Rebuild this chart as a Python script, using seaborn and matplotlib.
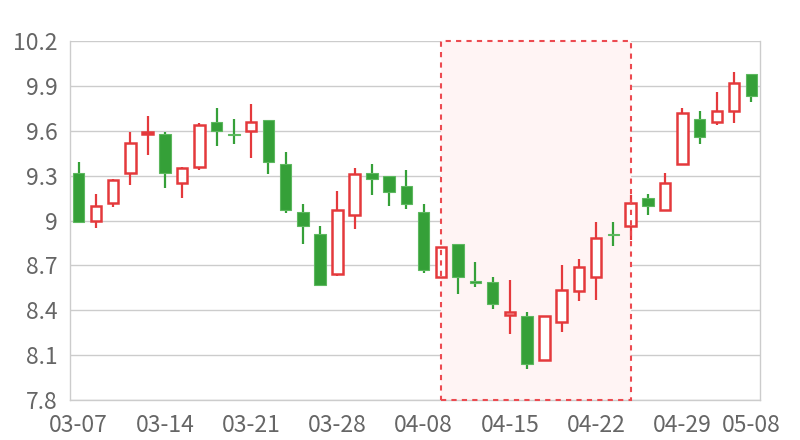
import numpy as np
import pandas as pd
import seaborn as sns
import matplotlib
matplotlib.use("Agg")
import matplotlib.pyplot as plt
from matplotlib.patches import Rectangle

sns.set_theme(style="white")
plt.rcParams['font.family'] = ['Noto Sans CJK SC', 'DejaVu Sans']

# trading days
dates = ["03-07", "03-08", "03-11", "03-12", "03-13", "03-14", "03-15", "03-18",
         "03-19", "03-20", "03-21", "03-22", "03-25", "03-26", "03-27", "03-28",
         "03-29", "04-01", "04-02", "04-03", "04-08", "04-09", "04-10", "04-11",
         "04-12", "04-15", "04-16", "04-17", "04-18", "04-19", "04-22", "04-23",
         "04-24", "04-25", "04-26", "04-29", "04-30", "05-06", "05-07", "05-08"]

open_ = [9.32, 9.00, 9.12, 9.32, 9.58, 9.58, 9.25, 9.36,
         9.66, 9.58, 9.60, 9.67, 9.38, 9.06, 8.91, 8.64,
         9.04, 9.32, 9.30, 9.23, 9.06, 8.62, 8.84, 8.595,
         8.59, 8.37, 8.36, 8.07, 8.32, 8.53, 8.62, 8.91,
         8.96, 9.15, 9.07, 9.38, 9.68, 9.66, 9.73, 9.98]
close = [8.99, 9.10, 9.27, 9.52, 9.59, 9.32, 9.35, 9.64,
         9.60, 9.57, 9.66, 9.39, 9.07, 8.96, 8.57, 9.07,
         9.31, 9.28, 9.19, 9.11, 8.67, 8.82, 8.62, 8.58,
         8.44, 8.39, 8.04, 8.36, 8.535, 8.69, 8.88, 8.90,
         9.12, 9.10, 9.25, 9.72, 9.56, 9.73, 9.92, 9.83]
high = [9.39, 9.18, 9.28, 9.59, 9.70, 9.59, 9.36, 9.65,
        9.75, 9.68, 9.78, 9.67, 9.46, 9.11, 8.96, 9.20,
        9.35, 9.38, 9.30, 9.34, 9.11, 8.82, 8.84, 8.72,
        8.62, 8.60, 8.39, 8.36, 8.70, 8.74, 8.99, 8.99,
        9.17, 9.18, 9.32, 9.75, 9.73, 9.86, 9.99, 9.98]
low = [8.99, 8.95, 9.09, 9.24, 9.44, 9.22, 9.15, 9.34,
       9.50, 9.51, 9.42, 9.31, 9.05, 8.84, 8.57, 8.63,
       8.94, 9.17, 9.10, 9.08, 8.65, 8.62, 8.51, 8.555,
       8.41, 8.24, 8.01, 8.07, 8.255, 8.46, 8.47, 8.83,
       8.87, 9.04, 9.07, 9.38, 9.51, 9.64, 9.65, 9.79]

# highlighted period
area_start = "04-09"
area_end = "04-24"

yticks = [7.8, 8.1, 8.4, 8.7, 9.0, 9.3, 9.6, 9.9, 10.2]
ytick_labels = ["7.8", "8.1", "8.4", "8.7", "9", "9.3", "9.6", "9.9", "10.2"]
xlabel_idx = [0, 5, 10, 15, 20, 25, 30, 35, 39]

up_color = '#e4393c'
down_color = '#35a038'

df = pd.DataFrame({"date": dates, "open": open_, "close": close, "high": high, "low": low})
df["x"] = np.arange(len(df))
df["up"] = df["close"] >= df["open"]

fig = plt.figure(figsize=(8, 4.4), dpi=100)
ax = fig.add_axes([0.0875, 0.0909, 0.8625, 0.8159])

# marked area
x0 = dates.index(area_start)
x1 = dates.index(area_end)
ax.add_patch(Rectangle((x0, yticks[0]), x1 - x0, yticks[-1] - yticks[0],
                       facecolor='#fff4f4', edgecolor='none', zorder=1))
ax.add_patch(Rectangle((x0, yticks[0]), x1 - x0, yticks[-1] - yticks[0],
                       facecolor='none', edgecolor='#ec4a50', lw=1.5,
                       linestyle=(0, (2.5, 2.5)), zorder=4, clip_on=False))

# wicks
colors = np.where(df["up"], up_color, down_color)
ax.vlines(df["x"], df["low"], df["high"], colors=colors, lw=1.6, zorder=2)

# bodies
bottom = np.minimum(df["open"], df["close"])
height = np.maximum(np.abs(df["close"] - df["open"]), 0.008)
up = df["up"].values
ax.bar(df["x"][up], height[up], bottom=bottom[up], width=0.62,
       color='white', edgecolor=up_color, linewidth=1.8, zorder=3)
ax.bar(df["x"][~up], height[~up], bottom=bottom[~up], width=0.66,
       color=down_color, edgecolor='#5db85f', linewidth=0.8, zorder=3)

ax.set_xlim(-0.5, len(dates) - 0.5)
ax.set_ylim(yticks[0], yticks[-1])
ax.set_yticks(yticks)
ax.set_yticklabels(ytick_labels)
ax.set_xticks(xlabel_idx)
ax.set_xticklabels([dates[i] for i in xlabel_idx])
ax.tick_params(axis='both', length=0, labelsize=16.5, labelcolor='#666666')
ax.tick_params(axis='x', pad=10)
ax.tick_params(axis='y', pad=9)

ax.grid(axis='y', color='#cccccc', lw=1, zorder=0)
ax.set_axisbelow(True)
for side in ['left', 'right', 'bottom']:
    ax.spines[side].set_color('#cccccc')
    ax.spines[side].set_linewidth(1)
ax.spines['top'].set_visible(False)

fig.savefig("out.png", dpi=100)
